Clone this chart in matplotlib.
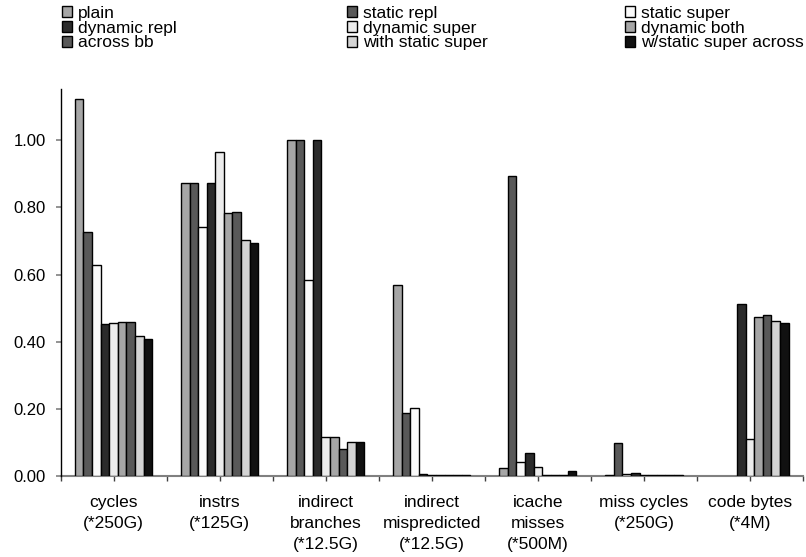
import numpy as np
import matplotlib.pyplot as plt
from matplotlib.patches import Patch

plt.rcParams['font.family'] = ['Liberation Sans', 'DejaVu Sans']

categories = ["cycles\n(*250G)", "instrs\n(*125G)", "indirect\nbranches\n(*12.5G)",
              "indirect\nmispredicted\n(*12.5G)", "icache\nmisses\n(*500M)",
              "miss cycles\n(*250G)", "code bytes\n(*4M)"]

series_names = ["plain", "static repl", "static super", "dynamic repl", "dynamic super",
                "dynamic both", "across bb", "with static super", "w/static super across"]

# one list per series, one value per category (nan = no bar)
plain = [1.122, 0.874, 1.000, 0.569, 0.024, 0.004, np.nan]
static_repl = [0.726, 0.872, 1.000, 0.187, 0.895, 0.097, np.nan]
static_super = [0.629, 0.742, 0.583, 0.204, 0.042, 0.006, np.nan]
dynamic_repl = [0.452, 0.874, 1.000, 0.005, 0.068, 0.008, 0.511]
dynamic_super = [0.455, 0.965, 0.116, 0.002, 0.028, 0.004, 0.111]
dynamic_both = [0.459, 0.784, 0.116, 0.002, 0.004, 0.002, 0.473]
across_bb = [0.458, 0.785, 0.079, 0.002, 0.004, 0.002, 0.481]
with_static_super = [0.418, 0.703, 0.101, 0.002, 0.004, 0.002, 0.463]
w_static_super_across = [0.409, 0.693, 0.101, 0.002, 0.015, 0.003, 0.457]

data = [plain, static_repl, static_super, dynamic_repl, dynamic_super,
        dynamic_both, across_bb, with_static_super, w_static_super_across]
colors = ["#a6a6a6", "#595959", "#fafafa", "#2b2b2b", "#ececec",
          "#a6a6a6", "#595959", "#d4d4d4", "#111111"]

fig = plt.figure(figsize=(8.06, 5.57), dpi=100)
ax = fig.add_axes([60.5 / 806, 1 - 476 / 557, (803 - 60.5) / 806, (476 - 89.3) / 557])

x = np.arange(len(categories))
w = 0.081
handles = []
for i, (vals, col, name) in enumerate(zip(data, colors, series_names)):
    vals = np.array(vals, dtype=float)
    ok = ~np.isnan(vals)
    ax.bar(x[ok] + (i - 4) * w, vals[ok], w, color=col, edgecolor="black", linewidth=1.0, zorder=3)
    handles.append(Patch(facecolor=col, edgecolor="black", linewidth=1.0, label=name))

ax.set_xlim(-0.5, len(categories) - 0.5)
ax.set_ylim(0, 1.152)
ax.set_yticks(np.arange(0, 1.01, 0.2))
ax.set_yticklabels([f"{v:.2f}" for v in np.arange(0, 1.01, 0.2)], fontsize=12)
ax.set_xticks(x)
ax.set_xticklabels(categories, fontsize=12.5, linespacing=1.5)
ax.set_xticks(np.arange(-0.5, len(categories), 1.0), minor=True)

for s in ["top", "right"]:
    ax.spines[s].set_visible(False)
ax.spines["left"].set_color("black")
ax.spines["left"].set_linewidth(1.0)
ax.spines["bottom"].set_color("#808080")
ax.spines["bottom"].set_linewidth(1.5)
ax.spines["bottom"].set_zorder(2)
ax.tick_params(axis="y", direction="out", length=3.5, color="#808080", width=1.2, pad=7)
ax.tick_params(axis="x", which="both", direction="out", length=3.5, color="#404040", width=1.0, pad=10.5)

# legend laid out row-wise in three columns
col_x = [61.7, 347, 625]
for c in range(3):
    hs = [handles[c], handles[c + 3], handles[c + 6]]
    fig.legend(handles=hs, loc="upper left", bbox_to_anchor=(col_x[c] / 806, 1 - 6 / 557),
               frameon=False, fontsize=12.5, handlelength=0.6, handleheight=0.6,
               handletextpad=0.35, labelspacing=-0.02, borderpad=0, borderaxespad=0)

fig.savefig("out.png", dpi=100)
